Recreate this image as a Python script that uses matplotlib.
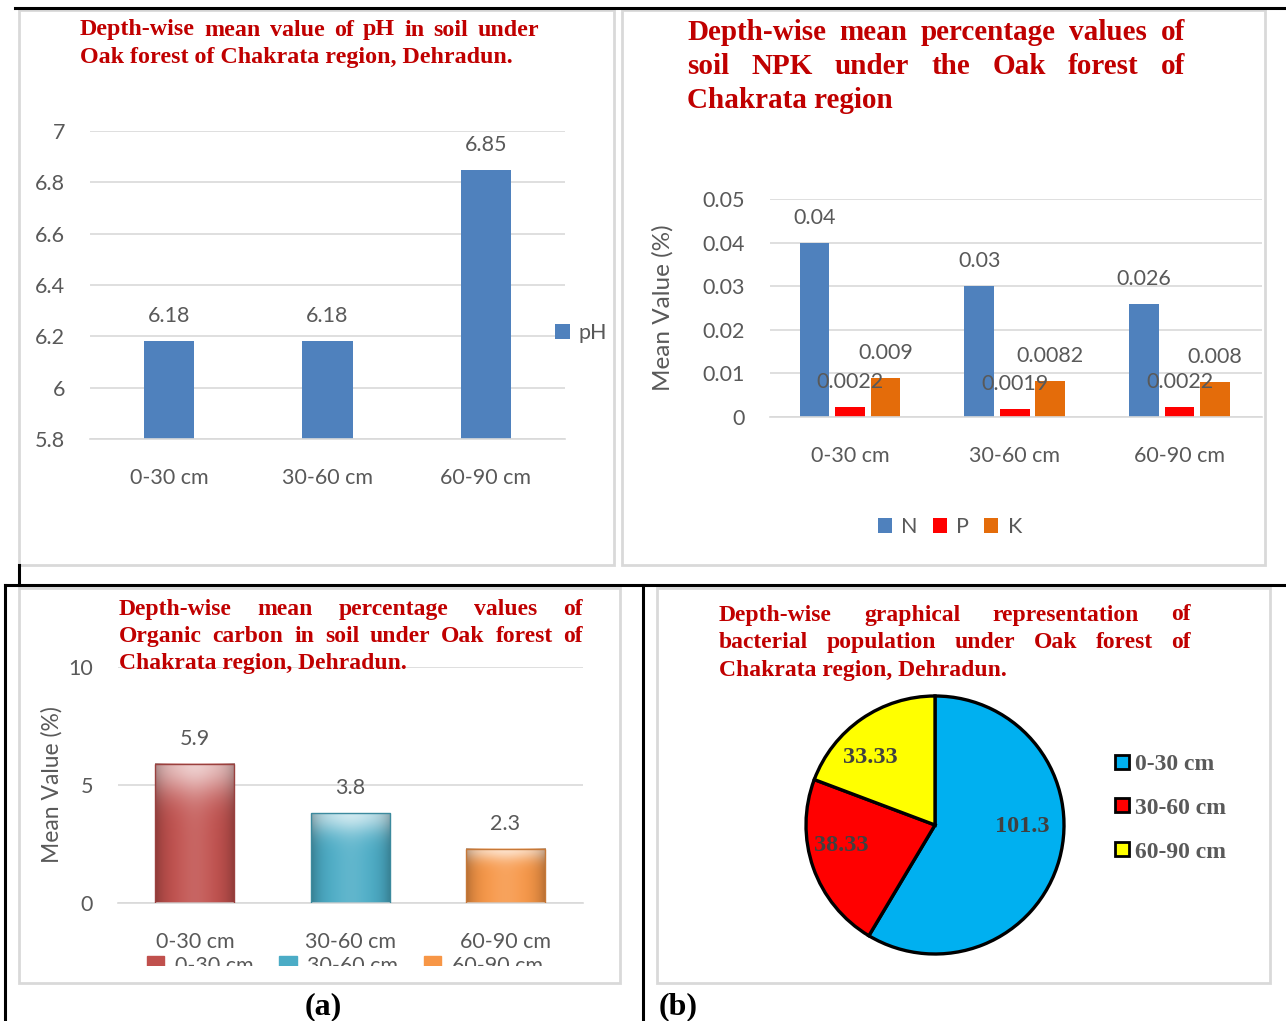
import numpy as np
import matplotlib
matplotlib.use('Agg')
import matplotlib.pyplot as plt
import matplotlib.colors as mcolors
from matplotlib.patches import Rectangle, Patch
from matplotlib.lines import Line2D

W, H = 1286, 1021

depths = ['0-30 cm', '30-60 cm', '60-90 cm']
ph_values = [6.18, 6.18, 6.85]
n_values = [0.04, 0.03, 0.026]
p_values = [0.0022, 0.0019, 0.0022]
k_values = [0.009, 0.0082, 0.008]
oc_values = [5.9, 3.8, 2.3]
bact_values = [101.3, 38.33, 33.33]

ph_ticks = [5.8, 6.0, 6.2, 6.4, 6.6, 6.8, 7.0]
npk_ticks = [0, 0.01, 0.02, 0.03, 0.04, 0.05]
oc_ticks = [0, 5, 10]

GRID = '#D9D9D9'
TXT = '#595959'
TITLE = '#C00000'
SANS = 'Lato'
SERIF = 'Liberation Serif'
FS = 15.5

plt.rcParams['font.family'] = SANS

fig = plt.figure(figsize=(W / 100, H / 100), dpi=100)


def fx(px):
    return px / W


def fy(py):
    return 1 - py / H


def axes_px(x0, y0, x1, y1):
    # pixel box (top-left origin) -> figure axes
    return fig.add_axes([fx(x0), fy(y1), (x1 - x0) / W, (y1 - y0) / H])


def excel_style(ax, ticks, fmt):
    ax.set_yticks(ticks)
    ax.set_yticklabels([fmt(t) for t in ticks])
    ax.grid(axis='y', color=GRID, lw=1.2, zorder=0)
    ax.set_axisbelow(True)
    for s in ['top', 'right', 'left']:
        ax.spines[s].set_visible(False)
    ax.spines['bottom'].set_color(GRID)
    ax.spines['bottom'].set_linewidth(1.2)
    ax.tick_params(axis='both', length=0, labelsize=FS, labelcolor=TXT)
    ax.tick_params(axis='y', pad=18)
    ax.tick_params(axis='x', pad=21)
    ax.set_facecolor('none')


title_kw = dict(family=SERIF, weight='bold', color=TITLE)


def justify(lines, x0, x1, y0, dy, size, last_full=False):
    r = fig.canvas.get_renderer()
    for i, line in enumerate(lines):
        y = y0 + i * dy
        words = line.split()
        if (i == len(lines) - 1 and not last_full) or len(words) < 2:
            fig.text(fx(x0), fy(y), line, va='center', ha='left', size=size, **title_kw)
            continue
        ts = [fig.text(0, fy(y), w, va='center', ha='left', size=size, **title_kw) for w in words]
        widths = [t.get_window_extent(r).width for t in ts]
        gap = (x1 - x0 - sum(widths)) / (len(words) - 1)
        x = x0
        for t, w in zip(ts, widths):
            t.set_x(fx(x))
            x += w + gap


def value_labels(ax, bars, vals, size=FS):
    for r, v in zip(bars, vals):
        ax.annotate(f'{v:g}', (r.get_x() + r.get_width() / 2, v), xytext=(0, 18),
                    textcoords='offset points', ha='center', va='center', size=size,
                    color=TXT, zorder=4)


# panel boxes and black frame lines
for (x0, y0, x1, y1) in [(19, 10, 614, 565), (622, 10, 1265, 565),
                         (19, 588, 620, 983), (657, 588, 1270, 983)]:
    fig.add_artist(Rectangle((fx(x0), fy(y1)), (x1 - x0) / W, (y1 - y0) / H,
                             transform=fig.transFigure, facecolor='white',
                             edgecolor=GRID, lw=2, zorder=-1))
for (xs, ys) in [([15, 1286], [8, 8]), ([19, 19], [565, 585]), ([5, 1286], [585, 585]),
                 ([5, 5], [585, 1021]), ([643, 643], [585, 1021])]:
    fig.add_artist(Line2D([fx(v) for v in xs], [fy(v) for v in ys],
                          transform=fig.transFigure, color='black', lw=2.2, zorder=6))

x = np.arange(len(depths))

# ---- (top-left) pH ----
ax1 = axes_px(90, 131, 565, 439)
b1 = ax1.bar(x, ph_values, width=0.32, color='#4F81BD', zorder=2, label='pH')
ax1.set_ylim(5.8, 7.0)
ax1.set_xlim(-0.5, 2.5)
ax1.set_xticks(x)
ax1.set_xticklabels(depths)
excel_style(ax1, ph_ticks, lambda t: f'{t:g}')
value_labels(ax1, b1, ph_values)
ax1.legend(loc='center left', bbox_to_anchor=((555 - 90) / 475, (439 - 333) / 308),
           frameon=False, handlelength=0.7, handleheight=0.7, handletextpad=0.4,
           borderpad=0, borderaxespad=0, fontsize=FS, labelcolor=TXT)
justify(['Depth-wise mean value of  pH in soil under', 'Oak forest of Chakrata region, Dehradun.'],
        80, 539, 30, 27, 17.3)

# ---- (top-right) NPK ----
ax2 = axes_px(770, 199, 1262, 417)
bw, off = 0.18, 0.215
npk = [(n_values, '#4F81BD', 'N', -off), (p_values, '#FF0000', 'P', 0), (k_values, '#E46C0A', 'K', off)]
for vals, col, lab, o in npk:
    bars = ax2.bar(x + o, vals, width=bw, color=col, label=lab, zorder=2)
    value_labels(ax2, bars, vals)
ax2.set_ylim(0, 0.05)
ax2.set_xlim(-0.485, 2.5)
ax2.set_xticks(x)
ax2.set_xticklabels(depths)
excel_style(ax2, npk_ticks, lambda t: f'{t:g}')
ax2.set_ylabel('Mean Value (%)', size=17.5, color=TXT, labelpad=21)
ax2.legend(loc='center', bbox_to_anchor=((950 - 770) / 492, -(527 - 417) / 218), ncol=3,
           frameon=False, handlelength=0.65, handleheight=0.65, handletextpad=0.45,
           columnspacing=0.7, fontsize=FS, labelcolor=TXT)
justify(['Depth-wise mean percentage values of', 'soil NPK under the Oak forest of',
         'Chakrata region'], 687, 1185, 32, 34, 21)

# ---- (bottom-left) organic carbon ----
ax3 = axes_px(118, 667, 583, 903)
oc_cols = ['#C0504D', '#4BACC6', '#F79646']
b3 = ax3.bar(x, oc_values, width=0.51, color='none', edgecolor='none', zorder=2)
yy = np.linspace(0, 1, 80)[:, None]
xx = np.linspace(-1, 1, 40)[None, :]
for r, c in zip(b3, oc_cols):
    base = np.array(mcolors.to_rgb(c))
    t = 0.6 * np.exp(-((1 - yy) / 0.22) ** 2) + 0.12 * np.exp(-(xx / 0.45) ** 2)
    t = np.clip(t, 0, 1)[..., None]
    img = base * (1 - t) + np.ones(3) * t
    img = img * (1 - 0.25 * np.abs(xx)[..., None] ** 4)
    x0, w, h = r.get_x(), r.get_width(), r.get_height()
    ax3.imshow(np.clip(img, 0, 1), extent=[x0, x0 + w, 0, h], origin='lower',
               aspect='auto', zorder=2, interpolation='bilinear')
    ax3.add_patch(Rectangle((x0, 0), w, h, fill=False, edgecolor=base * 0.8, lw=1, zorder=3))
ax3.set_ylim(0, 10)
ax3.set_xlim(-0.495, 2.5)
ax3.set_xticks(x)
ax3.set_xticklabels(depths)
excel_style(ax3, oc_ticks, lambda t: f'{t:g}')
ax3.set_ylabel('Mean Value (%)', size=16.5, color=TXT, labelpad=4)
value_labels(ax3, b3, oc_values)
ax3.legend(handles=[Patch(color=c) for c in oc_cols], labels=depths, loc='center',
           bbox_to_anchor=((345 - 118) / 465, -(966 - 903) / 236), ncol=3, frameon=False,
           handlelength=0.8, handleheight=0.8, handletextpad=0.5, columnspacing=1.2,
           fontsize=FS, labelcolor=TXT)
# panel clips the legend
fig.add_artist(Rectangle((fx(21), fy(981)), (618 - 21) / W, (981 - 966) / H,
                         transform=fig.transFigure, facecolor='white', edgecolor='none', zorder=5))
justify(['Depth-wise mean percentage values of', 'Organic carbon in soil under Oak forest of',
         'Chakrata region, Dehradun.'], 119, 583, 609, 27.5, 17)

# ---- (bottom-right) bacterial population pie ----
R = 129
ax4 = axes_px(935 - 1.25 * R, 825 - 1.25 * R, 935 + 1.25 * R, 825 + 1.25 * R)
pie_cols = ['#00B0F0', '#FF0000', '#FFFF00']
pie_label_pos = [(0.68, -0.01), (-0.73, -0.16), (-0.5, 0.52)]
total = sum(bact_values)
wedges, _, autotexts = ax4.pie(bact_values, colors=pie_cols, startangle=90, counterclock=False,
                               wedgeprops=dict(edgecolor='black', linewidth=2.4),
                               autopct=lambda p: f'{p * total / 100:.4g}', pctdistance=0.7,
                               textprops=dict(family=SERIF, weight='bold', size=17.5, color='#404040'))
for t, pos in zip(autotexts, pie_label_pos):
    t.set_position(pos)
fig.legend(handles=[Line2D([], [], marker='s', ls='', markerfacecolor=c, markeredgecolor='black',
                           markeredgewidth=2, markersize=10) for c in pie_cols],
           labels=depths, loc='center left', bbox_to_anchor=(fx(1094), fy(808)), frameon=False,
           handlelength=0.6, handletextpad=0.25, labelspacing=0.95,
           prop=dict(family=SERIF, weight='bold', size=17), labelcolor=TXT)
justify(['Depth-wise graphical representation of', 'bacterial population under Oak forest of',
         'Chakrata region, Dehradun.'], 719, 1191, 615, 27.5, 17)

fig.text(fx(323), fy(1007), '(a)', ha='center', va='center', family=SERIF, weight='bold', size=23)
fig.text(fx(678), fy(1007), '(b)', ha='center', va='center', family=SERIF, weight='bold', size=23)

fig.savefig('out.png', dpi=100)
